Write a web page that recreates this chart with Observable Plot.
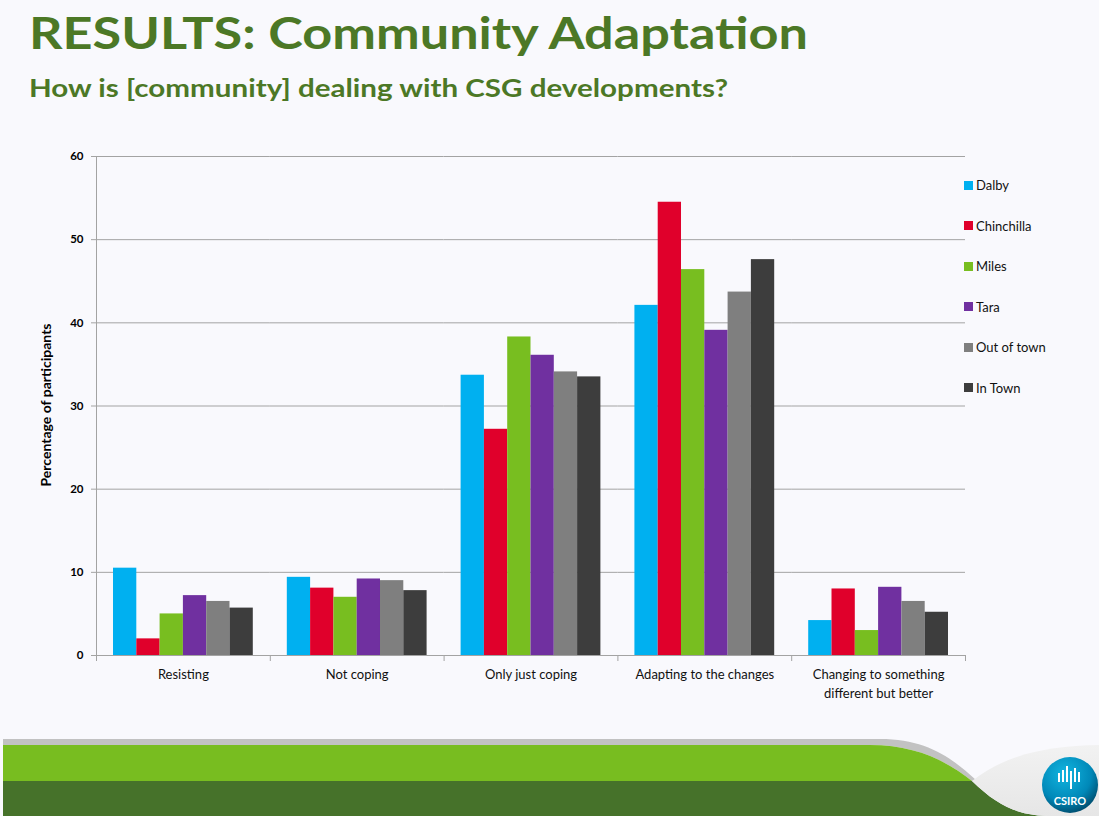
<!DOCTYPE html>
<html>
<head>
<meta charset="utf-8">
<script src="https://cdn.jsdelivr.net/npm/d3@7"></script>
<script src="https://cdn.jsdelivr.net/npm/@observablehq/plot@0.6"></script>
<style>
  html, body { margin: 0; padding: 0; background: #f9f9fd; }
  #page { position: relative; width: 1099px; height: 816px; overflow: hidden; background: #f9f9fd; font-family: Lato, "Open Sans", sans-serif; }
  #deco { position: absolute; left: 0; top: 0; }
  #chart { position: absolute; left: 0; top: 140px; }
  #legend { position: absolute; left: 964px; top: 165px; display: flex; flex-direction: column; }
  .item { height: 40.5px; display: flex; align-items: center; font-size: 13px; color: #111; font-family: Lato, sans-serif; }
  .sw { width: 9px; height: 9px; margin-right: 3px; }
</style>
</head>
<body>
<div id="page">
  <svg id="deco" width="1099" height="816" xmlns="http://www.w3.org/2000/svg">
    <defs>
      <radialGradient id="logoGrad" cx="0.4" cy="0.3" r="0.8">
        <stop offset="0" stop-color="#12b5e0"/>
        <stop offset="0.6" stop-color="#0088b8"/>
        <stop offset="1" stop-color="#003b58"/>
      </radialGradient>
      <linearGradient id="waveGrad" x1="0" y1="0" x2="0" y2="1">
        <stop offset="0" stop-color="#f2f2f2"/>
        <stop offset="1" stop-color="#e6e6e6"/>
      </linearGradient>
    </defs>
    <text x="29" y="49" font-family="Lato, sans-serif" font-weight="bold" font-size="43" fill="#4c7826" textLength="779" lengthAdjust="spacingAndGlyphs">RESULTS: Community Adaptation</text>
    <text x="29" y="97" font-family="Lato, sans-serif" font-weight="bold" font-size="25.5" fill="#4c7826" textLength="699" lengthAdjust="spacingAndGlyphs">How is [community] dealing with CSG developments?</text>
    <text transform="translate(51,405) rotate(-90)" text-anchor="middle" font-family="Lato, sans-serif" font-weight="bold" font-size="14" fill="#000">Percentage of participants</text>
    <!-- bottom banner -->
    <path d="M3,739 H880 C925,739 950,756 976,780 L972,781 C945,760 915,745 870,745 H3 Z" fill="#c2c2c2"/>
    <path d="M3,745 H870 C915,745 945,760 972,781 H3 Z" fill="#78bd20"/>
    <path d="M3,781 H972 C1000,808 1020,816 1053,816 H3 Z" fill="#46722a"/>
    <path d="M972,781 C1005,755 1045,746 1099,745 V816 H1053 C1020,816 1000,808 972,781 Z" fill="url(#waveGrad)"/>
    <circle cx="1070" cy="785" r="28" fill="url(#logoGrad)"/>
    <g fill="#fff">
      <rect x="1058" y="773" width="2" height="9"/>
      <rect x="1062" y="770" width="2" height="12"/>
      <rect x="1066" y="766" width="2" height="16"/>
      <rect x="1070" y="771" width="2" height="18"/>
      <rect x="1074" y="768" width="2" height="14"/>
      <rect x="1078" y="772" width="2" height="10"/>
    </g>
    <text x="1070" y="805" text-anchor="middle" font-family="Lato, sans-serif" font-weight="bold" font-size="11" fill="#fff">CSIRO</text>
  </svg>
  <div id="chart"></div>
  <div id="legend"></div>
</div>
<script>
const categories = ["Resisting", "Not coping", "Only just coping", "Adapting to the changes", "Changing to something different but better"];
const tickLabels = ["Resisting", "Not coping", "Only just coping", "Adapting to the changes", "Changing to something\ndifferent but better"];
const series = ["Dalby", "Chinchilla", "Miles", "Tara", "Out of town", "In Town"];
const colors = ["#00b0f0", "#e0002b", "#78be20", "#7030a0", "#7f7f7f", "#3d3d3d"];
const yTicks = [0, 10, 20, 30, 40, 50, 60];

const dalby      = [10.5, 9.4, 33.7, 42.1, 4.2];
const chinchilla = [2.0, 8.1, 27.2, 54.5, 8.0];
const miles      = [5.0, 7.0, 38.3, 46.4, 3.0];
const tara       = [7.2, 9.2, 36.1, 39.1, 8.2];
const outOfTown  = [6.5, 9.0, 34.1, 43.7, 6.5];
const inTown     = [5.7, 7.8, 33.5, 47.6, 5.2];

const seriesValues = [dalby, chinchilla, miles, tara, outOfTown, inTown];
const rows = [];
series.forEach((s, si) => {
  categories.forEach((c, ci) => rows.push({category: c, series: s, value: seriesValues[si][ci]}));
});

const gridColor = "#a3a3a3";
const plotH = 570 - 16 - 55;

const chart = Plot.plot({
  width: 1099,
  height: 570,
  marginLeft: 96,
  marginRight: 134,
  marginTop: 16,
  marginBottom: 55,
  style: {fontFamily: "Lato, sans-serif", fontSize: "12px", background: "transparent", color: "#000", overflow: "visible"},
  fx: {domain: categories, padding: 0, round: false, label: null},
  x: {domain: series, paddingInner: 0, paddingOuter: 0.73, round: false, axis: null},
  y: {domain: [0, 60], ticks: yTicks, label: null},
  color: {domain: series, range: colors},
  marks: [
    Plot.gridY(yTicks, {stroke: gridColor, strokeOpacity: 1}),
    Plot.barY(rows, {fx: "category", x: "series", y: "value", fill: "series"}),
    Plot.ruleY([0], {stroke: gridColor}),
    Plot.frame({anchor: "left", facetAnchor: "left", stroke: gridColor}),
    Plot.frame({anchor: "left", stroke: gridColor, insetTop: plotH, insetBottom: -5}),
    Plot.frame({anchor: "right", facetAnchor: "right", stroke: gridColor, insetTop: plotH, insetBottom: -5}),
    Plot.axisY(yTicks, {tickSize: 5, tickPadding: 8, fontWeight: "bold", fontSize: 11.5, stroke: gridColor, fill: "#000", label: null}),
    Plot.axisFx({anchor: "bottom", tickSize: 0, tickPadding: 10, fontSize: 13, lineHeight: 1.45, fill: "#111", label: null,
      tickFormat: d => tickLabels[categories.indexOf(d)]})
  ]
});
document.getElementById("chart").appendChild(chart);

const legend = document.getElementById("legend");
series.forEach((s, i) => {
  const item = document.createElement("div");
  item.className = "item";
  const sw = document.createElement("span");
  sw.className = "sw";
  sw.style.background = colors[i];
  item.appendChild(sw);
  item.appendChild(document.createTextNode(s));
  legend.appendChild(item);
});
</script>
</body>
</html>
